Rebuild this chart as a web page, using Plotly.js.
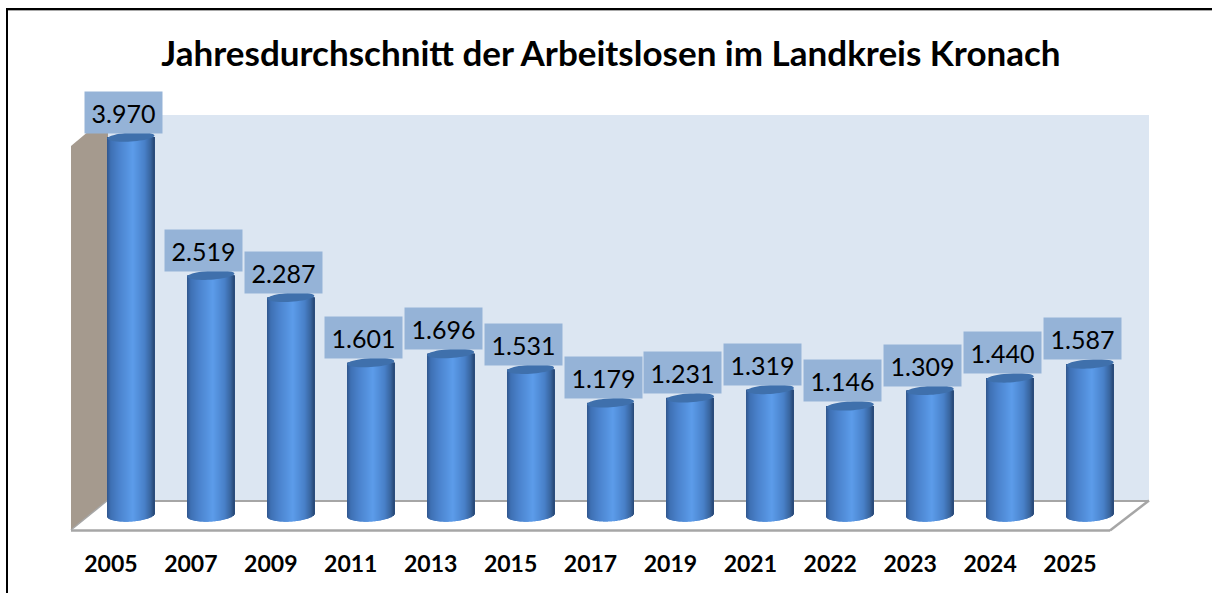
<!DOCTYPE html>
<html><head><meta charset="utf-8">
<script src="https://cdn.plot.ly/plotly-3.0.1.min.js"></script>
<style>html,body{margin:0;padding:0;background:#fff;overflow:hidden}#c{width:1212px;height:593px}</style>
</head><body><div id="c"></div>
<script>
const years = ['2005','2007','2009','2011','2013','2015','2017','2019','2021','2022','2023','2024','2025'];
const values = [3970,2519,2287,1601,1696,1531,1179,1231,1319,1146,1309,1440,1587];
const labels = ['3.970','2.519','2.287','1.601','1.696','1.531','1.179','1.231','1.319','1.146','1.309','1.440','1.587'];
const titleText = 'Jahresdurchschnitt der Arbeitslosen im Landkreis Kronach';

const W=1212,H=593;
const L=71,R=1130,T=0,B=530;           // plot rect, px
const floorFront=1110, depth=20;
const zeroY=515, pxPerUnit=378/3970;
const yMin=-(B-zeroY)/pxPerUnit, yMax=(zeroY-T)/pxPerUnit;
const px=x=>(x-L)/(R-L), py=y=>(B-y)/(B-T);
const barW=0.588, strips=47, ryBottom=6.5, ryTop=4.5, tilt=1.5;

const stops=[[0,[48,86,140]],[0.08,[62,112,180]],[0.25,[74,130,204]],[0.55,[92,156,234]],[0.8,[72,128,200]],[0.93,[56,100,158]],[1,[40,72,118]]];
function col(t){
  for(let i=1;i<stops.length;i++){ if(t<=stops[i][0]){
    const a=stops[i-1],b=stops[i],f=(t-a[0])/(b[0]-a[0]);
    return 'rgb('+a[1].map((v,k)=>Math.round(v+(b[1][k]-v)*f)).join(',')+')';
  }}
  return 'rgb(40,72,118)';
}
const traces=[];
// hidden trace keeping label axis populated
traces.push({type:'scatter',mode:'markers',x:years,y:values.map(()=>0),xaxis:'x',yaxis:'y',marker:{opacity:0},hoverinfo:'skip',showlegend:false});
for(let s=0;s<strips;s++){
  const t=(s+0.5)/strips, u=2*t-1;
  const b=(-ryBottom*Math.sqrt(1-u*u)+tilt*u)/pxPerUnit;
  traces.push({type:'bar',x:years,y:values.map(v=>v-b),base:values.map(()=>b),
    xaxis:'x2',yaxis:'y',width:barW/strips,offset:-barW/2+s*barW/strips,
    marker:{color:col(t),opacity:1,line:{width:0}},hoverinfo:'skip',showlegend:false});
}

const poly=(pts,fill,line,layer)=>({type:'path',xref:'paper',yref:'paper',layer:layer||'below',
  path:'M'+pts.map(p=>px(p[0])+','+py(p[1])).join('L')+'Z',fillcolor:fill,line:line||{width:0}});
const lineS=(x0,y0,x1,y1,color,w)=>({type:'line',xref:'paper',yref:'paper',layer:'below',x0:px(x0),y0:py(y0),x1:px(x1),y1:py(y1),line:{color:color,width:w}});

const shapes=[
  lineS(7,9,1212,9,'#000',2), lineS(1212,10.5,8,10.5,'#a8a8a8',1), lineS(7,8,7,593,'#000',2),
  poly([[107,115],[1149,115],[1149,501],[107,501]],'#dce6f2'),
  poly([[71,146],[108,115],[108,500],[71,530]],'#a59a8e'),
  poly([[71,530],[1110,530],[1149,500],[108,500]],'#ffffff'),
  lineS(108,501,1149,501,'#a6a6a6',2),
  lineS(71,530.5,1110,530.5,'#a6a6a6',2.5),
  lineS(1110,530.5,1149,500.5,'#a6a6a6',2.5),
  lineS(71,530,108,500,'#a6a6a6',1.5)
];
values.forEach((v,i)=>{
  const pts=[];
  for(let k=0;k<48;k++){
    const a=2*Math.PI*k/48;
    pts.push((i+barW/2*Math.cos(a))+','+(v+(ryTop*Math.sin(a)+tilt*Math.cos(a))/pxPerUnit));
  }
  shapes.push({type:'path',xref:'x2',yref:'y',layer:'above',path:'M'+pts.join('L')+'Z',fillcolor:'#3f70ac',line:{width:0}});
});
const annotations=labels.map((t,i)=>({xref:'x2',yref:'y',x:i,y:values[i],text:t,showarrow:false,
  xanchor:'center',yanchor:'bottom',xshift:-7.5,yshift:3.5,width:77,height:41,bgcolor:'#95b3d7',borderpad:0,
  align:'center',valign:'middle',font:{family:'Lato, Carlito, sans-serif',size:25,color:'#000'}}));

const layout={width:W,height:H,margin:{l:L,r:W-R,t:T,b:H-B,pad:0},autosize:false,
  paper_bgcolor:'#fff',plot_bgcolor:'rgba(0,0,0,0)',barmode:'overlay',showlegend:false,
  title:{text:'<b>'+titleText+'</b>',x:611/W,xanchor:'center',y:1-54/H,yanchor:'middle',font:{family:'Lato, Carlito, sans-serif',size:35,color:'#000'}},
  xaxis:{type:'category',categoryorder:'array',categoryarray:years,range:[-0.5,12.5],domain:[0,px(floorFront)],
    showgrid:false,zeroline:false,showline:false,ticks:'',ticklabelstandoff:18,
    tickfont:{family:'Lato, Carlito, sans-serif',size:23,color:'#000',weight:700},anchor:'y',fixedrange:true},
  xaxis2:{type:'category',categoryorder:'array',categoryarray:years,range:[-0.5,12.5],domain:[px(L+depth),1],
    visible:false,anchor:'y',fixedrange:true},
  yaxis:{range:[yMin,yMax],visible:false,fixedrange:true},
  shapes:shapes,annotations:annotations
};
Plotly.newPlot('c',traces,layout,{displayModeBar:false});
</script></body></html>
